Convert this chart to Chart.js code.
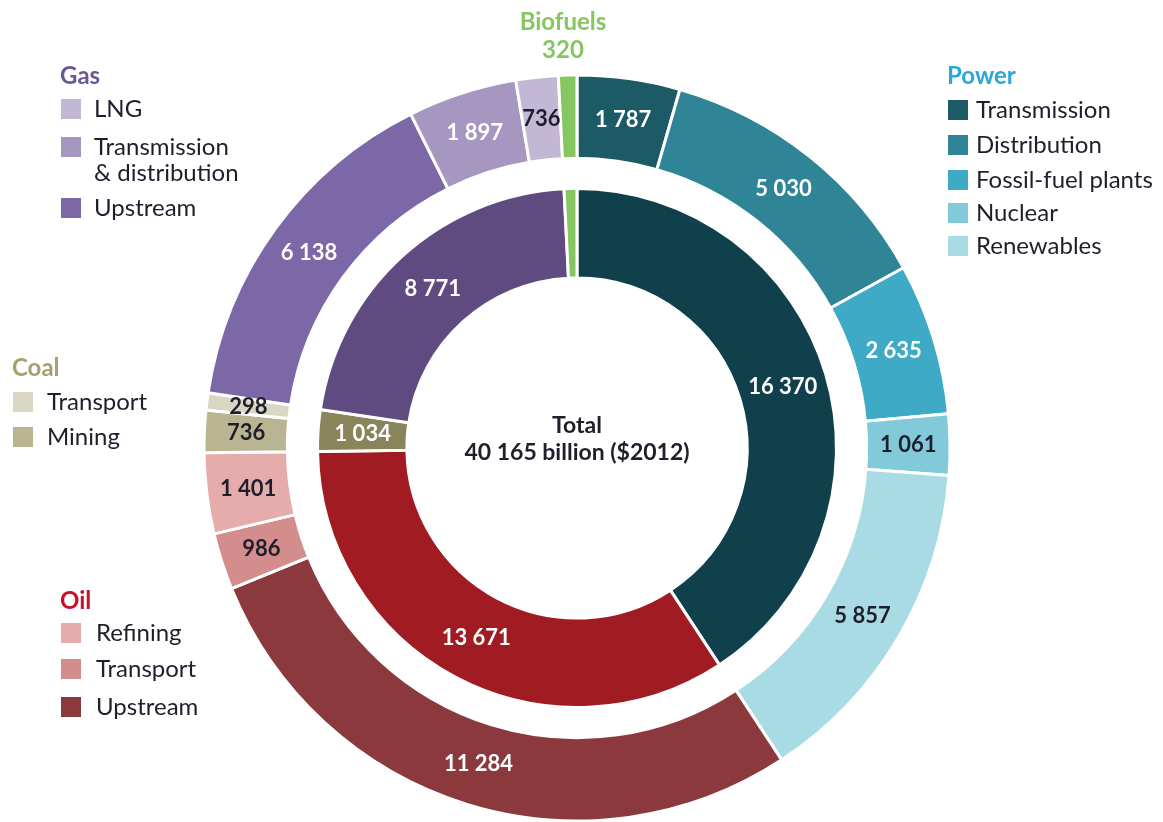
<!DOCTYPE html>
<html>
<head>
<meta charset="utf-8">
<script src="https://cdn.jsdelivr.net/npm/chart.js@4"></script>
<style>
  html, body { margin: 0; padding: 0; background: #fff; }
  #wrap { position: relative; width: 1163px; height: 822px; }
</style>
</head>
<body>
<div id="wrap"><canvas id="investChart" width="1163" height="822"></canvas></div>
<script>
// inner ring: sectors
const sectorNames = ['Power', 'Oil', 'Coal', 'Gas', 'Biofuels'];
const sectorValues = [16370, 13671, 1034, 8771, 320];
const sectorColors = ['#10404b', '#a01c22', '#8a845a', '#5f4b7f', '#86c660'];
const sectorTextColors = ['#ffffff', '#ffffff', '#ffffff', '#ffffff', null];

// outer ring: sub-sectors, clockwise from the top
const subNames = ['Power Transmission', 'Power Distribution', 'Fossil-fuel plants', 'Nuclear', 'Renewables',
  'Oil Upstream', 'Oil Transport', 'Refining', 'Coal Mining', 'Coal Transport',
  'Gas Upstream', 'Gas Transmission & distribution', 'LNG', 'Biofuels'];
const subValues = [1787, 5030, 2635, 1061, 5857, 11284, 986, 1401, 736, 298, 6138, 1897, 736, 320];
const subColors = ['#1c5a66', '#2f8596', '#3eaac6', '#82c9d9', '#a9dbe4',
  '#8c393d', '#d48d8d', '#e6acab', '#b9b593', '#d9d7c4',
  '#7c67a7', '#a697c0', '#c2b8d6', '#86c660'];
const subTextColors = ['#fff', '#fff', '#fff', '#1e1e2c', '#1e1e2c',
  '#fff', '#1e1e2c', '#1e1e2c', '#1e1e2c', '#1e1e2c',
  '#fff', '#fff', '#1e1e2c', null];

const totalText = ['Total', '40 165 billion ($2012)'];

// legend groups
const legendGroups = [
  { title: 'Power', color: '#2aa7db', x: 947, y: 76, textX: 976, items: [
    { label: ['Transmission'], color: '#1c5a66', y: 110 },
    { label: ['Distribution'], color: '#2f8596', y: 145 },
    { label: ['Fossil-fuel plants'], color: '#3eaac6', y: 180 },
    { label: ['Nuclear'], color: '#82c9d9', y: 213 },
    { label: ['Renewables'], color: '#a9dbe4', y: 246 }
  ]},
  { title: 'Gas', color: '#6c5796', x: 60, y: 76, textX: 94, items: [
    { label: ['LNG'], color: '#c2b8d6', y: 109 },
    { label: ['Transmission', '& distribution'], color: '#a697c0', y: 147 },
    { label: ['Upstream'], color: '#7c67a7', y: 208 }
  ]},
  { title: 'Coal', color: '#a89f70', x: 12, y: 368, textX: 47, items: [
    { label: ['Transport'], color: '#d9d7c4', y: 402 },
    { label: ['Mining'], color: '#b9b593', y: 437 }
  ]},
  { title: 'Oil', color: '#c8102e', x: 60, y: 601, textX: 96, items: [
    { label: ['Refining'], color: '#e6acab', y: 633 },
    { label: ['Transport'], color: '#d48d8d', y: 669 },
    { label: ['Upstream'], color: '#8c393d', y: 707 }
  ]}
];

const fmt = v => String(v).replace(/\B(?=(\d{3})+(?!\d))/g, ' ');
const FONT = 'Lato, "Open Sans", sans-serif';

const labelPlugin = {
  id: 'labels',
  afterDraw(chart) {
    const ctx = chart.ctx;
    ctx.save();
    ctx.textAlign = 'center';
    ctx.textBaseline = 'middle';
    ctx.font = 'bold 22px ' + FONT;

    const drawRing = (dsIndex, values, colors) => {
      chart.getDatasetMeta(dsIndex).data.forEach((arc, i) => {
        if (!colors[i]) return;
        const p = arc.tooltipPosition();
        ctx.fillStyle = colors[i];
        ctx.fillText(fmt(values[i]), p.x, p.y);
      });
    };
    drawRing(0, subValues, subTextColors);
    drawRing(2, sectorValues, sectorTextColors);

    // centre
    const c = chart.getDatasetMeta(0).data[0];
    ctx.fillStyle = '#1e1e2c';
    ctx.font = 'bold 23px ' + FONT;
    ctx.fillText(totalText[0], c.x, c.y - 22);
    ctx.fillText(totalText[1], c.x, c.y + 5);

    // biofuels caption
    ctx.fillStyle = '#86c660';
    ctx.font = 'bold 24px ' + FONT;
    ctx.fillText(sectorNames[4], 563, 22);
    ctx.fillText(fmt(sectorValues[4]), 563, 50);

    // legends
    ctx.textAlign = 'left';
    legendGroups.forEach(g => {
      ctx.font = 'bold 24px ' + FONT;
      ctx.fillStyle = g.color;
      ctx.fillText(g.title, g.x, g.y);
      ctx.font = '24px ' + FONT;
      g.items.forEach(it => {
        ctx.fillStyle = it.color;
        ctx.fillRect(g.x + 1, it.y - 10, 20, 20);
        ctx.fillStyle = '#1e1e2c';
        it.label.forEach((line, k) => ctx.fillText(line, g.textX, it.y + k * 26));
      });
    });
    ctx.restore();
  }
};

new Chart(document.getElementById('investChart'), {
  type: 'doughnut',
  data: {
    labels: subNames,
    datasets: [
      { data: subValues, backgroundColor: subColors, borderColor: '#fff', borderWidth: 3, weight: 83 },
      { data: [1], backgroundColor: 'rgba(0,0,0,0)', borderWidth: 0, weight: 30 },
      { data: sectorValues, backgroundColor: sectorColors, borderColor: '#fff', borderWidth: 3, weight: 89 }
    ]
  },
  options: {
    responsive: false,
    animation: false,
    events: [],
    radius: 373,
    cutout: '45.6%',
    layout: { padding: { left: 0, right: 9, top: 74, bottom: 0 } },
    plugins: { legend: { display: false }, tooltip: { enabled: false } }
  },
  plugins: [labelPlugin]
});
</script>
</body>
</html>
